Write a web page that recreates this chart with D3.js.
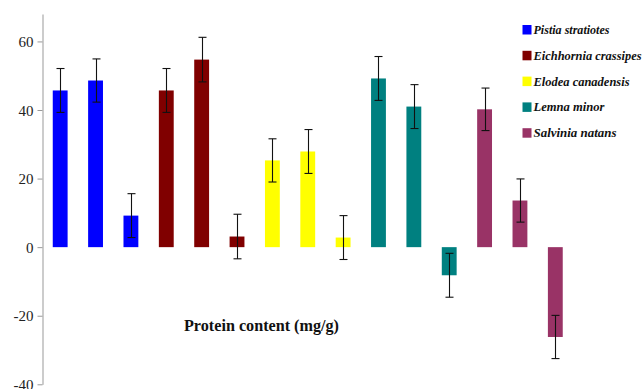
<!DOCTYPE html>
<html>
<head>
<meta charset="utf-8">
<script src="https://cdn.jsdelivr.net/npm/d3@7"></script>
<style>
  html, body { margin: 0; padding: 0; background: #fff; }
  svg { display: block; }
</style>
</head>
<body>
<svg id="chart" width="642" height="389"></svg>
<script>
const species = ["Pistia stratiotes", "Eichhornia crassipes", "Elodea canadensis", "Lemna minor", "Salvinia natans"];
const speciesColors = ["#0000FF", "#800000", "#FFFF00", "#008080", "#993366"];
const categories = ["P1","P2","P3","E1","E2","E3","El1","El2","El3","L1","L2","L3","S1","S2","S3"];
const barSpecies = [0,0,0,1,1,1,2,2,2,3,3,3,4,4,4];
const values = [45.7, 48.6, 9.2, 45.7, 54.7, 3.1, 25.3, 27.9, 2.8, 49.2, 41.0, -8.2, 40.2, 13.6, -26.2];
const errors = [6.4, 6.3, 6.4, 6.4, 6.5, 6.5, 6.3, 6.4, 6.4, 6.4, 6.4, 6.4, 6.2, 6.3, 6.3];
const yTicks = [-40, -20, 0, 20, 40, 60];
const title = "Protein content (mg/g)";
const legendWidths = [76, 108, 96, 71, 83];

const svg = d3.select("#chart");
const axisX = 42.5;

const x = d3.scaleBand().domain(categories).range([axisX, 573]).paddingInner(0.58).paddingOuter(0.29);
const y = d3.scaleLinear().domain([-40, 68]).range([384.3, 14]);

// y axis
const yAxis = d3.axisLeft(y).tickValues(yTicks).tickSize(5).tickSizeOuter(0).tickFormat(d3.format("d"));
const gy = svg.append("g").attr("transform", `translate(${axisX},0)`).call(yAxis);
gy.select(".domain").attr("stroke", "#999").attr("stroke-width", 1);
gy.selectAll(".tick line").attr("stroke", "#999");
gy.selectAll(".tick text")
  .attr("font-family", "'Liberation Serif', 'Times New Roman', serif")
  .attr("font-size", 15)
  .attr("fill", "#222")
  .attr("x", -9)
  .attr("dy", "0.34em")
  .text(d => d < 0 ? "-" + Math.abs(d) : d);

// bars
const data = categories.map((c, i) => ({c, v: values[i], e: errors[i], s: barSpecies[i]}));
svg.append("g").selectAll("rect").data(data).join("rect")
  .attr("x", d => x(d.c))
  .attr("width", x.bandwidth())
  .attr("y", d => y(Math.max(0, d.v)))
  .attr("height", d => Math.abs(y(d.v) - y(0)))
  .attr("fill", d => speciesColors[d.s]);

// error bars
const eg = svg.append("g").attr("stroke", "#111").attr("stroke-width", 1.1);
data.forEach(d => {
  const cx = Math.round(x(d.c) + x.bandwidth() / 2) + 0.5;
  const capW = 4;
  eg.append("line").attr("x1", cx).attr("x2", cx).attr("y1", y(d.v + d.e)).attr("y2", y(d.v - d.e));
  eg.append("line").attr("x1", cx - capW).attr("x2", cx + capW).attr("y1", y(d.v + d.e)).attr("y2", y(d.v + d.e));
  eg.append("line").attr("x1", cx - capW).attr("x2", cx + capW).attr("y1", y(d.v - d.e)).attr("y2", y(d.v - d.e));
});

// legend
const lg = svg.append("g");
species.forEach((s, i) => {
  const by = 34 + i * 25.8;
  lg.append("rect").attr("x", 522.5).attr("y", by - 9).attr("width", 9).attr("height", 9.5).attr("fill", speciesColors[i]);
  lg.append("text").attr("x", 533.5).attr("y", by)
    .attr("font-family", "'Liberation Serif', 'Times New Roman', serif")
    .attr("font-style", "italic").attr("font-weight", "bold")
    .attr("font-size", 12).attr("fill", "#111")
    .attr("textLength", legendWidths[i]).attr("lengthAdjust", "spacingAndGlyphs")
    .text(s);
});

// title
svg.append("text").attr("x", 184).attr("y", 330.7)
  .attr("font-family", "'Liberation Serif', 'Times New Roman', serif")
  .attr("font-weight", "bold").attr("font-size", 17).attr("fill", "#111")
  .attr("textLength", 155).attr("lengthAdjust", "spacingAndGlyphs")
  .text(title);
</script>
</body>
</html>
